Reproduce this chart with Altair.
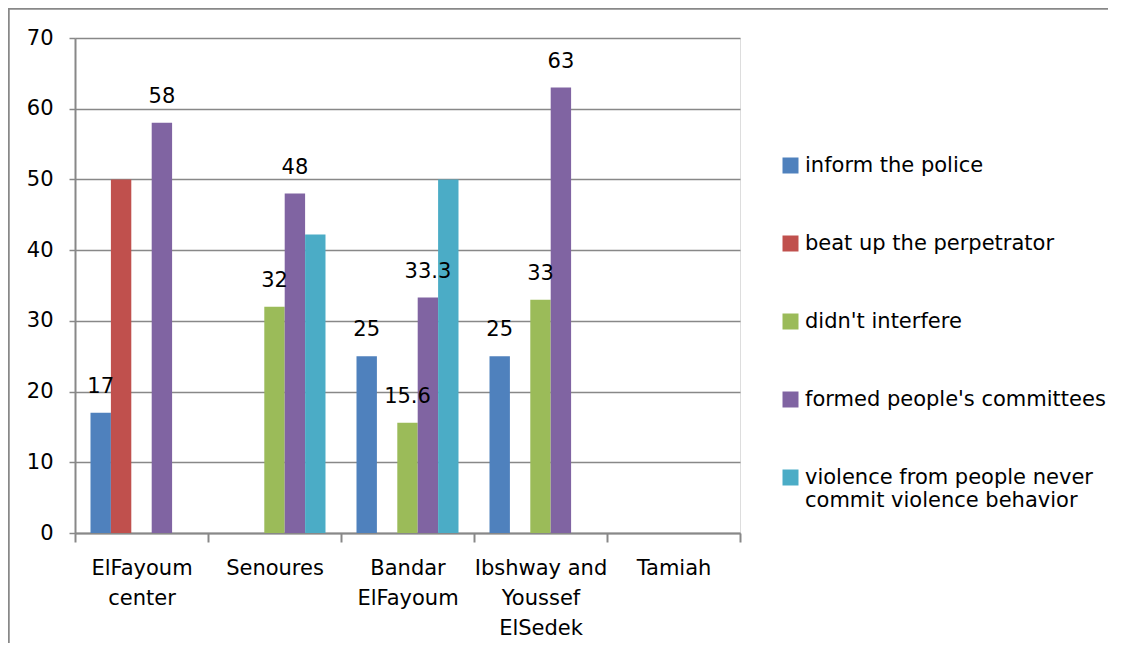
import altair as alt
import pandas as pd

categories = ["ElFayoum center", "Senoures", "Bandar ElFayoum",
              "Ibshway and Youssef ElSedek", "Tamiah"]
category_lines = [["ElFayoum", "center"], ["Senoures"], ["Bandar", "ElFayoum"],
                  ["Ibshway and", "Youssef", "ElSedek"], ["Tamiah"]]
series = ["inform the police", "beat up the perpetrator", "didn't interfere",
          "formed people's committees",
          "violence from people never commit violence behavior"]
series_lines = [["inform the police"], ["beat up the perpetrator"], ["didn't interfere"],
                ["formed people's committees"],
                ["violence from people never", "commit violence behavior"]]
colors = ["#4F81BD", "#C0504D", "#9BBB59", "#8064A2", "#4BACC6"]

inform_police = [17, 0, 25, 25, 0]
beat_up = [50, 0, 0, 0, 0]
didnt_interfere = [0, 32, 15.6, 33, 0]
formed_committees = [58, 48, 33.3, 63, 0]
violence_never = [0, 42.2, 50, 0, 0]

# data labels as shown on the chart ("" = no label)
label_inform = ["17", "", "25", "25", ""]
label_beat = ["", "", "", "", ""]
label_didnt = ["", "32", "15.6", "33", ""]
label_formed = ["58", "48", "33.3", "63", ""]
label_violence = ["", "", "", "", ""]

values = [inform_police, beat_up, didnt_interfere, formed_committees, violence_never]
labels = [label_inform, label_beat, label_didnt, label_formed, label_violence]

rows = []
for s, vals, labs in zip(series, values, labels):
    for c, v, l in zip(categories, vals, labs):
        rows.append({"category": c, "series": s, "value": v, "label": l})
df = pd.DataFrame(rows)


def lines_expr(names, lines):
    expr = "datum.label"
    for n, ls in zip(names, lines):
        arr = "[" + ", ".join("'" + x.replace("'", "\\'") + "'" for x in ls) + "]"
        expr = f"datum.label == '{n.replace(chr(39), chr(92) + chr(39))}' ? {arr} : ({expr})"
    return expr


FONT = "DejaVu Sans"
FS = 21
GRAY = "#888888"

x_enc = alt.X("category:N", sort=categories,
              scale=alt.Scale(domain=categories, paddingInner=0, paddingOuter=0),
              axis=alt.Axis(title=None, labelAngle=0, tickBand="extent", tickSize=9,
                            labelPadding=15, labelLineHeight=30, grid=False,
                            domainColor=GRAY, domainWidth=2, tickColor=GRAY, tickWidth=2,
                            labelExpr=lines_expr(categories, category_lines),
                            labelFontSize=FS, labelColor="black", labelFont=FONT))
xoff_enc = alt.XOffset("series:N", sort=series,
                       scale=alt.Scale(domain=series, paddingInner=0, paddingOuter=0.76))
y_enc = alt.Y("value:Q",
              scale=alt.Scale(domain=[0, 70], nice=False),
              axis=alt.Axis(title=None, values=[0, 10, 20, 30, 40, 50, 60, 70],
                            tickSize=6, labelPadding=16, gridColor=GRAY, gridWidth=1.5,
                            domainColor=GRAY, domainWidth=2, tickColor=GRAY, tickWidth=1.5,
                            labelFontSize=FS, labelColor="black", labelFont=FONT))

bars = alt.Chart(df).mark_bar().encode(
    x=x_enc,
    xOffset=xoff_enc,
    y=y_enc,
    color=alt.Color("series:N", sort=series,
                    scale=alt.Scale(domain=series, range=colors),
                    legend=alt.Legend(title=None, orient="none", legendX=705, legendY=117,
                                      symbolType="square", symbolSize=256,
                                      symbolStrokeWidth=0, labelOffset=4,
                                      rowPadding=56, padding=0, labelLimit=0,
                                      labelFontSize=FS, labelFont=FONT, labelColor="black",
                                      labelExpr=lines_expr(series, series_lines))),
)

texts = alt.Chart(df).transform_filter("datum.label != ''").mark_text(
    baseline="bottom", dy=-16, fontSize=FS, font=FONT, color="black"
).encode(
    x=alt.X("category:N", sort=categories, scale=alt.Scale(domain=categories)),
    xOffset=alt.XOffset("series:N", sort=series, scale=alt.Scale(domain=series)),
    y=alt.Y("value:Q"),
    text="label:N",
)

frame_df = pd.DataFrame({"k": [0]})
frame_top = alt.Chart(frame_df).mark_rule(color=GRAY, strokeWidth=2.5).encode(
    x=alt.value(-67), x2=alt.value(1100), y=alt.value(-29.5))
frame_left = alt.Chart(frame_df).mark_rule(color=GRAY, strokeWidth=2.5).encode(
    x=alt.value(-66.5), y=alt.value(-31), y2=alt.value(640))

chart = alt.layer(bars, texts, frame_top, frame_left).properties(
    width=665, height=495,
    autosize=alt.AutoSizeParams(type="none"),
    padding={"left": 67, "top": 30, "right": 368, "bottom": 110},
).configure_view(stroke=None).configure(font=FONT)

chart.save("out.html", embed_options={"renderer": "svg", "actions": False})
